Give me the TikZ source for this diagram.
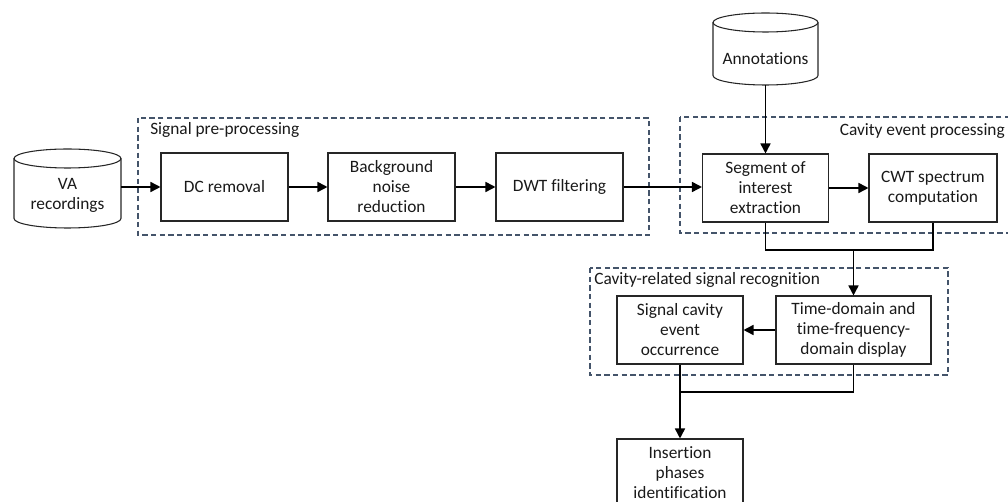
\documentclass[tikz,border=0pt]{standalone}
\usepackage{fontspec}
\setmainfont{Carlito}[Ligatures=NoCommon]
\usetikzlibrary{arrows.meta}
\definecolor{dashc}{HTML}{44546A}
\begin{document}
\begin{tikzpicture}[x=0.75pt,y=-0.75pt,
  every node/.style={font=\fontsize{13}{15}\selectfont, text=black!90},
  proc/.style={draw=black!85, line width=0.8pt, minimum width=95.25pt, minimum height=51pt, align=center, inner sep=2pt},
  cylbody/.style={draw=none, align=center, inner sep=0pt},
  cyl/.style={draw=black!85, line width=0.8pt},
  grp/.style={draw=dashc, line width=0.8pt, dash pattern=on 4pt off 2.5pt},
  grplabel/.style={inner sep=0pt},
  conn/.style={line width=1.2pt, black},
  arr/.style={conn, -{Triangle[length=7.5pt,width=7.5pt]}}]
\useasboundingbox (0,0) rectangle (1008,502);
\clip (0,0) rectangle (1008,502);

% group boxes
\draw[grp] (138,118) rectangle (649,235);
\node[grplabel, anchor=west] (gl1) at (150,130) {Signal pre-processing};
\draw[grp] (680,117) rectangle (1015,233);
\node[grplabel, anchor=east] (gl2) at (1005,131) {Cavity event processing};
\draw[grp] (590,268) rectangle (948,375);
\node[grplabel, anchor=west] (gl3) at (594,280) {Cavity-related signal recognition};

% VA recordings cylinder
\draw[cyl] (14,158.5) -- (14,218.5) arc[start angle=180, end angle=360, x radius=40.125pt, y radius=7.125pt] -- (121,158.5);
\draw[cyl] (67.5,158.5) ellipse[x radius=40.125pt, y radius=7.125pt];
\node[cylbody, minimum width=80.25pt, minimum height=45pt] (va) at (67.5,195) {VA\\recordings};

% Annotations cylinder
\draw[cyl] (713,22.5) -- (713,75.5) arc[start angle=180, end angle=360, x radius=39.375pt, y radius=7.125pt] -- (818,22.5);
\draw[cyl] (765.5,22.5) ellipse[x radius=39.375pt, y radius=7.125pt];
\node[cylbody, minimum width=78.75pt, minimum height=39.75pt] (ann) at (765.5,58.5) {Annotations};

% process boxes
\node[proc] (dc) at (224.5,187) {DC removal};
\node[proc] (bg) at (391.5,187) {Background\\noise\\reduction};
\node[proc] (dwt) at (559.5,187) {DWT filtering};
\node[proc, minimum width=94.5pt] (seg) at (765.5,188) {Segment of\\interest\\extraction};
\node[proc, minimum width=96pt] (cwt) at (933,188) {CWT spectrum\\computation};
\node[proc, minimum width=116.25pt] (time) at (853.5,330) {Time-domain and\\time-frequency-\\domain display};
\node[proc, minimum width=94.5pt] (sig) at (680,330) {Signal cavity\\event\\occurrence};
\node[proc, minimum width=94.5pt] (ins) at (680,473) {Insertion\\phases\\identification};

% connectors
\draw[arr] (va.east |- dc.west) -- (dc.west);
\draw[arr] (dc) -- (bg);
\draw[arr] (bg) -- (dwt);
\draw[arr] (dwt.east) -- (dwt.east -| seg.west);
\draw[arr] (seg) -- (cwt);
\draw[arr] (ann.south) -- (seg.north);
\coordinate (j1) at (853.5,250);
\draw[conn] (seg.south) |- (j1);
\draw[conn] (cwt.south) |- (j1);
\draw[arr] (j1) -- (time.north);
\draw[arr] (time.west) -- (sig.east);
\coordinate (j2) at (680,392);
\draw[conn] (time.south) |- (j2);
\draw[conn] (sig.south) -- (j2);
\draw[arr] (j2) -- (ins.north);
\end{tikzpicture}
\end{document}
